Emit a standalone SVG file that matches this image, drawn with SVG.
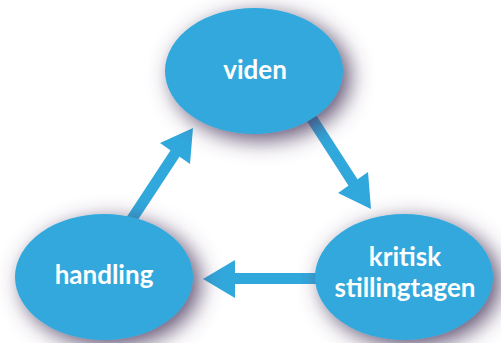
<svg xmlns="http://www.w3.org/2000/svg" width="501" height="343" viewBox="0 0 501 343">
<defs>
<filter id="shadow" x="-40%" y="-40%" width="180%" height="180%">
<feGaussianBlur in="SourceAlpha" stdDeviation="11"/>
<feOffset dx="7" dy="6" result="b"/>
<feFlood flood-color="#4e3d62" flood-opacity="0.9"/>
<feComposite in2="b" operator="in"/>
<feMerge><feMergeNode/><feMergeNode in="SourceGraphic"/></feMerge>
</filter>
</defs>
<style>
.node{fill:#31a8dc;filter:url(#shadow)}
.lbl{font-family:Lato,"Open Sans","Liberation Sans",sans-serif;font-weight:bold;font-size:26px;fill:#ffffff;text-anchor:middle}
.shaft{stroke:#31a8dc;stroke-width:11;fill:none}
.head{fill:#31a8dc}
</style>
<rect width="501" height="343" fill="#ffffff"/>
<g id="connectors">
<line class="shaft" x1="305" y1="108" x2="354" y2="184"/>
<polygon class="head" points="338,193 371,209 368,172"/>
<line class="shaft" x1="325" y1="278.5" x2="232" y2="278.5"/>
<polygon class="head" points="235,260 203,279 235,298"/>
<line class="shaft" x1="126" y1="228" x2="176" y2="152"/>
<polygon class="head" points="160,143 193,128 190,164"/>
</g>
<g id="node-viden">
<ellipse class="node" cx="254" cy="71" rx="89" ry="63"/>
<text class="lbl" x="255" y="79">viden</text>
</g>
<g id="node-kritisk">
<ellipse class="node" cx="404" cy="277" rx="89" ry="63"/>
<text class="lbl" x="405" y="266">kritisk</text>
<text class="lbl" x="405" y="297">stillingtagen</text>
</g>
<g id="node-handling">
<ellipse class="node" cx="104" cy="277" rx="89" ry="63"/>
<text class="lbl" x="104" y="284">handling</text>
</g>
</svg>
